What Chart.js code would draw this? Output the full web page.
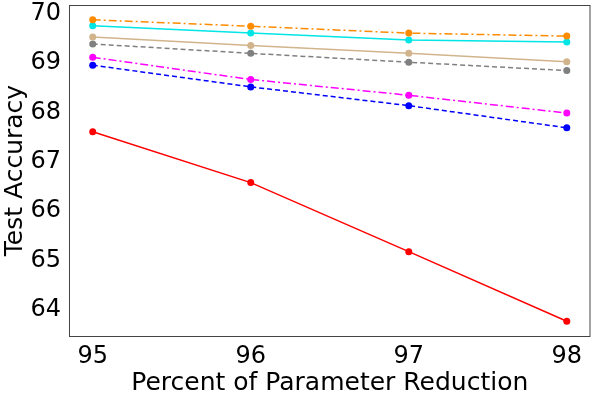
<!DOCTYPE html>
<html>
<head>
<meta charset="utf-8">
<script src="https://cdn.jsdelivr.net/npm/chart.js@4/dist/chart.umd.min.js"></script>
<style>
  html, body { margin: 0; padding: 0; background: #fff; }
  #wrap { width: 594px; height: 398px; }
</style>
</head>
<body>
<div id="wrap"><canvas id="myChart" width="594" height="398"></canvas></div>
<script>
// x positions (percent of parameter reduction)
var reduction = [95, 96, 97, 98];
var yTicks = [64, 65, 66, 67, 68, 69, 70];

// one array per curve
var orangeAcc  = [69.84, 69.71, 69.57, 69.51];
var cyanAcc    = [69.72, 69.57, 69.43, 69.39];
var tanAcc     = [69.49, 69.32, 69.16, 68.99];
var grayAcc    = [69.35, 69.16, 68.98, 68.81];
var magentaAcc = [69.08, 68.63, 68.31, 67.95];
var blueAcc    = [68.92, 68.48, 68.10, 67.65];
var redAcc     = [67.57, 66.54, 65.14, 63.73];

function pts(arr) {
  var out = [];
  for (var i in reduction) {
    out.push({x: reduction[i], y: arr[i]});
  }
  return out;
}

function line(data, color, dash) {
  return {
    data: pts(data),
    borderColor: color,
    backgroundColor: color,
    borderWidth: 1.5,
    borderDash: dash,
    pointRadius: 3.5,
    pointHoverRadius: 3.5,
    pointBorderWidth: 0,
    tension: 0
  };
}

var dashDot = [8, 3, 2, 3];
var dashed = [5, 3];

// box around the plot area, like the matplotlib spines
var frame = {
  id: 'frame',
  afterDraw: function(chart) {
    var a = chart.chartArea, ctx = chart.ctx;
    ctx.save();
    ctx.strokeStyle = '#444';
    ctx.lineWidth = 1;
    ctx.strokeRect(a.left + 0.5, a.top + 0.5, a.right - a.left - 1, a.bottom - a.top);
    ctx.restore();
  }
};

var ctx = document.getElementById('myChart');

var lineGraph = new Chart(ctx, {
  type: 'line',
  data: {
    datasets: [
      line(orangeAcc, '#ff8c00', dashDot),
      line(cyanAcc, '#00e5e5', []),
      line(tanAcc, '#d2b48c', []),
      line(grayAcc, '#808080', dashed),
      line(magentaAcc, '#ff00ff', dashDot),
      line(blueAcc, '#0000ff', dashed),
      line(redAcc, '#ff0000', [])
    ]
  },
  options: {
    responsive: false,
    animation: false,
    layout: { padding: { top: 5, right: 3, left: 0, bottom: 0 } },
    plugins: { legend: { display: false }, tooltip: { enabled: false } },
    scales: {
      x: {
        type: 'linear',
        min: 94.85,
        max: 98.15,
        afterBuildTicks: function(axis) {
          axis.ticks = reduction.map(function(v) { return {value: v}; });
        },
        afterFit: function(axis) {
          axis.height = 62;
          axis.paddingLeft = 0;
          axis.paddingRight = 0;
        },
        grid: { display: false, drawTicks: true, tickLength: 5, tickColor: '#333' },
        border: { display: false },
        ticks: { color: '#000', font: { family: 'DejaVu Sans', size: 24 }, padding: 1, maxRotation: 0 },
        title: { display: true, text: 'Percent of Parameter Reduction', color: '#000',
                 font: { family: 'DejaVu Sans', size: 25 }, padding: { top: 0, bottom: 0 } }
      },
      y: {
        min: 63.43,
        max: 70.14,
        afterBuildTicks: function(axis) {
          axis.ticks = yTicks.map(function(v) { return {value: v}; });
        },
        afterFit: function(axis) {
          axis.width = 69;
          axis.paddingTop = 0;
          axis.paddingBottom = 0;
        },
        grid: { display: false, drawTicks: true, tickLength: 5, tickColor: '#333' },
        border: { display: false },
        ticks: { color: '#000', font: { family: 'DejaVu Sans', size: 24 }, padding: 3, labelOffset: 2 },
        title: { display: true, text: 'Test Accuracy', color: '#000',
                 font: { family: 'DejaVu Sans', size: 25 }, padding: { top: 0, bottom: 0 } }
      }
    }
  },
  plugins: [frame]
});
</script>
</body>
</html>
